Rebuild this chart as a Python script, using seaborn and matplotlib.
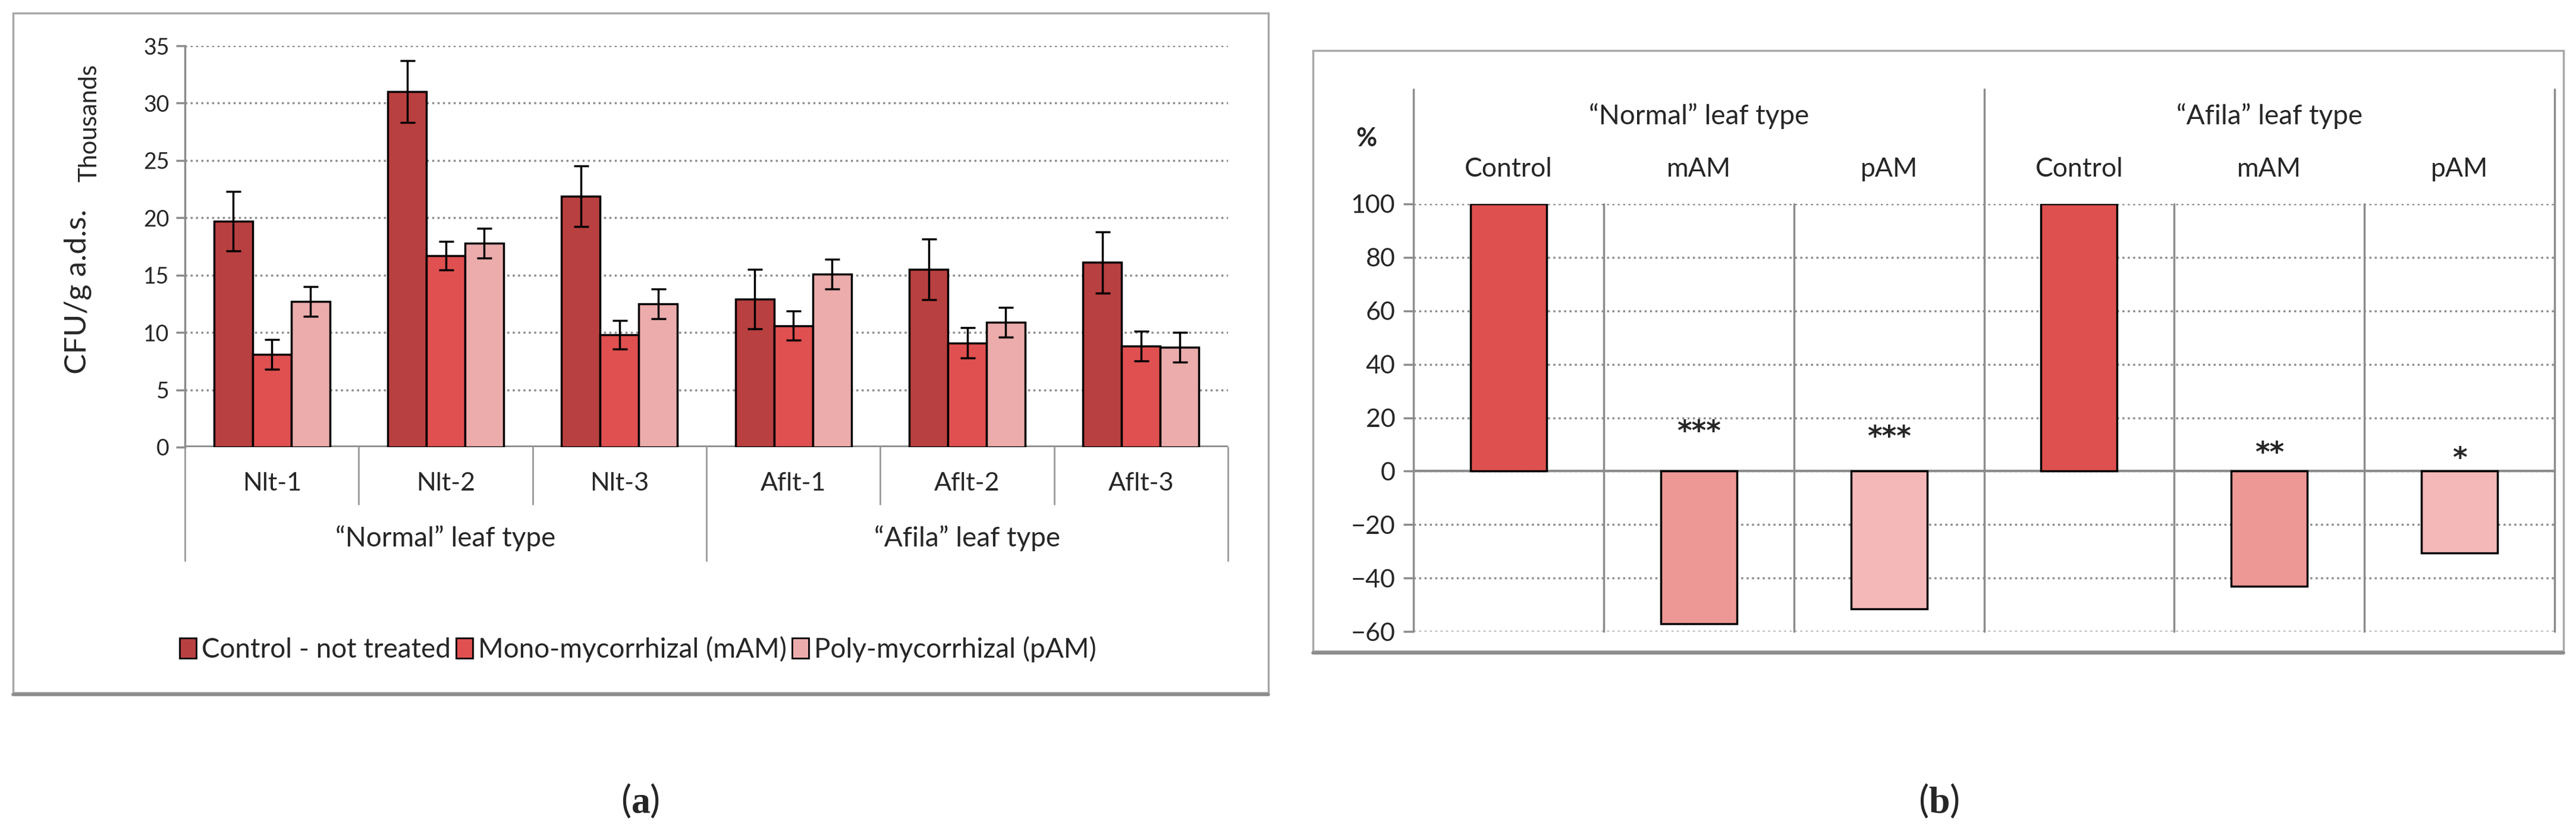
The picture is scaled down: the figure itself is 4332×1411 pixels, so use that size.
import numpy as np
import pandas as pd
import seaborn as sns
import matplotlib.pyplot as plt
import matplotlib.transforms as mtransforms
from matplotlib.patches import Rectangle, Patch
from matplotlib.lines import Line2D

# ---- data, panel (a): CFU per g a.d.s. (thousands) ----
lines_a = ["Nlt-1", "Nlt-2", "Nlt-3", "Aflt-1", "Aflt-2", "Aflt-3"]
groups_a = ["\u201cNormal\u201d leaf type", "\u201cAfila\u201d leaf type"]
treatments_a = ["Control - not treated", "Mono-mycorrhizal (mAM)", "Poly-mycorrhizal (pAM)"]
control_a = [19.7, 31.0, 21.9, 12.9, 15.5, 16.1]
mam_a = [8.1, 16.7, 9.8, 10.6, 9.1, 8.8]
pam_a = [12.7, 17.8, 12.5, 15.1, 10.9, 8.7]
control_err = [2.6, 2.7, 2.65, 2.6, 2.65, 2.65]
mam_err = [1.3, 1.25, 1.25, 1.25, 1.3, 1.3]
pam_err = [1.3, 1.3, 1.3, 1.3, 1.3, 1.3]

# ---- data, panel (b): change vs control (%) ----
groups_b = ["\u201cNormal\u201d leaf type", "\u201cAfila\u201d leaf type"]
treatments_b = ["Control", "mAM", "pAM"]
normal_b = [100, -57.1, -51.6]
afila_b = [100, -43.1, -30.7]
stars_b = ["", "***", "***", "", "**", "*"]

colors_a = ["#B94040", "#E05050", "#ECACAC"]
colors_b = ["#DD504F", "#EE9896", "#F4B8B8"]
GRAY = "#8c8c8c"
star_height = [0, 18, 16, 0, 10, 8]   # where the significance marks sit

W, H = 4332, 1411

sns.set_theme(style="white")
plt.rcParams["font.family"] = ["Lato", "DejaVu Sans"]
plt.rcParams["mathtext.fontset"] = "custom"
plt.rcParams["mathtext.rm"] = "Liberation Serif"
plt.rcParams["mathtext.bf"] = "Liberation Serif:bold"


def fig_box(x0, y0, x1, y1):
    """Axes rectangle from pixel corners (top-left origin)."""
    return [x0 / W, 1 - y1 / H, (x1 - x0) / W, (y1 - y0) / H]


fig = plt.figure(figsize=(W / 100, H / 100), dpi=100)

# frames around both panels
for x0, y0, x1, y1 in [(22, 22, 2133, 1165), (2208, 85, 4311, 1095)]:
    fig.patches.append(Rectangle((x0 / W, 1 - y1 / H), (x1 - x0) / W, (y1 - y0) / H,
                                 transform=fig.transFigure, fill=False,
                                 edgecolor="#a8a8a8", linewidth=2.5))
    fig.lines.append(Line2D([x0 / W, x1 / W], [1 - y1 / H - 0.002] * 2,
                            transform=fig.transFigure, color=GRAY, linewidth=4))

# ---------------- panel (a) ----------------
df_a = pd.DataFrame({
    "line": lines_a * 3,
    "treatment": np.repeat(treatments_a, len(lines_a)),
    "cfu": control_a + mam_a + pam_a,
    "err": control_err + mam_err + pam_err,
})

ax_a = fig.add_axes(fig_box(311, 77, 2065, 752))
sns.barplot(data=df_a, x="line", y="cfu", hue="treatment", order=lines_a,
            hue_order=treatments_a, palette=colors_a, width=0.667,
            edgecolor="black", linewidth=2.5, errorbar=None, legend=False,
            saturation=1, ax=ax_a, zorder=3)

for container, tr in zip(ax_a.containers, treatments_a):
    sub = df_a[df_a["treatment"] == tr]
    xs = [p.get_x() + p.get_width() / 2 for p in container]
    ax_a.errorbar(xs, sub["cfu"], yerr=sub["err"], fmt="none", ecolor="black",
                  elinewidth=2.5, capsize=9, capthick=2.5, zorder=4)

ax_a.set_xlim(-0.5, len(lines_a) - 0.5)
ax_a.set_ylim(0, 35)
ax_a.set_yticks(range(0, 36, 5))
ax_a.yaxis.grid(True, linestyle=(0, (1, 1.6)), color=GRAY, linewidth=2.5)
ax_a.set_axisbelow(True)
ax_a.axhline(0, color=GRAY, linewidth=4, zorder=2)
for s in ["top", "right", "bottom"]:
    ax_a.spines[s].set_visible(False)
ax_a.spines["left"].set_color(GRAY)
ax_a.spines["left"].set_linewidth(2.5)
ax_a.set_xticks([])
ax_a.set_xlabel("")
ax_a.set_ylabel("")
ax_a.tick_params(axis="y", direction="out", length=11, width=2.5, color=GRAY,
                 pad=8, labelsize=27, left=True)

trans_a = mtransforms.blended_transform_factory(ax_a.transData, ax_a.transAxes)
for k in range(len(lines_a) + 1):
    xb = k - 0.5
    low = -0.283 if k % 3 == 0 else -0.142
    ax_a.plot([xb, xb], [0, low], transform=trans_a, clip_on=False,
              color="#9a9a9a", linewidth=2)
for i, lab in enumerate(lines_a):
    ax_a.text(i, -0.09, lab, transform=trans_a, ha="center", va="center", fontsize=31)
for g, lab in enumerate(groups_a):
    ax_a.text(3 * g + 1, -0.227, lab, transform=trans_a, ha="center", va="center",
              fontsize=33)

fig.text(131 / W, 1 - 490 / H, "CFU/g a.d.s.", rotation=90, ha="center",
         va="center", fontsize=37)
fig.text(150 / W, 1 - 207 / H, "Thousands", rotation=90, ha="center",
         va="center", fontsize=30)

handles = [Patch(facecolor=c, edgecolor="black", linewidth=2) for c in colors_a]
fig.legend(handles, treatments_a, loc="center", bbox_to_anchor=(1073 / W, 1 - 1092 / H),
           ncol=3, frameon=False, fontsize=33, handlelength=0.6, handleheight=0.75,
           handletextpad=0.2, columnspacing=0.2)

# ---------------- panel (b) ----------------
slots_b = [f"{g}|{t}" for g in groups_b for t in treatments_b]
df_b = pd.DataFrame({
    "slot": slots_b,
    "treatment": treatments_b * 2,
    "change": normal_b + afila_b,
})

ax_b = fig.add_axes(fig_box(2377, 343, 4296, 1062))
sns.barplot(data=df_b, x="slot", y="change", hue="treatment", order=slots_b,
            hue_order=treatments_b, palette=colors_b, dodge=False, width=0.4,
            edgecolor="black", linewidth=2.5, legend=False, saturation=1,
            ax=ax_b, zorder=3)

ax_b.set_xlim(-0.5, len(slots_b) - 0.5)
ax_b.set_ylim(-60, 100)
ax_b.set_yticks(range(-60, 101, 20))
ax_b.yaxis.grid(True, linestyle=(0, (1, 1.6)), color=GRAY, linewidth=2.5)
ax_b.set_axisbelow(True)
ax_b.axhline(0, color=GRAY, linewidth=3, zorder=2)
for s in ax_b.spines.values():
    s.set_visible(False)
ax_b.set_xticks([])
ax_b.set_xlabel("")
ax_b.set_ylabel("")
ax_b.tick_params(axis="y", direction="out", length=12, width=2.5, color=GRAY,
                 pad=10, labelsize=31, left=True)

trans_b = mtransforms.blended_transform_factory(ax_b.transData, ax_b.transAxes)
for k in range(len(slots_b) + 1):
    xb = k - 0.5
    top = 1.268 if k % 3 == 0 else 1.0
    ax_b.plot([xb, xb], [0, top], transform=trans_b, clip_on=False,
              color=GRAY, linewidth=2.5, zorder=2)
STAR_SIZE = 34
for i, slot in enumerate(slots_b):
    ax_b.text(i, 1.082, slot.split("|")[1], transform=trans_b, ha="center",
              va="center", fontsize=32)
    if stars_b[i]:
        # asterisks sit high in the glyph box: shift baseline down so the marks centre on star_height
        ax_b.annotate(stars_b[i], (i, star_height[i]), xytext=(0, -0.6 * STAR_SIZE),
                      textcoords="offset points", ha="center", va="baseline",
                      fontsize=STAR_SIZE, fontweight="bold", family="DejaVu Sans")
for g, lab in enumerate(groups_b):
    ax_b.text(3 * g + 1, 1.206, lab, transform=trans_b, ha="center", va="center",
              fontsize=33)

fig.text(2298 / W, 1 - 233 / H, "%", ha="center", va="center", fontsize=31,
         fontweight="bold")

# panel letters
fig.text(1077 / W, 1 - 1347 / H, r"($\mathbf{a}$)", ha="center", va="center", fontsize=46)
fig.text(3260 / W, 1 - 1347 / H, r"($\mathbf{b}$)", ha="center", va="center", fontsize=46)

fig.savefig("out.png", dpi=100, facecolor="white")
